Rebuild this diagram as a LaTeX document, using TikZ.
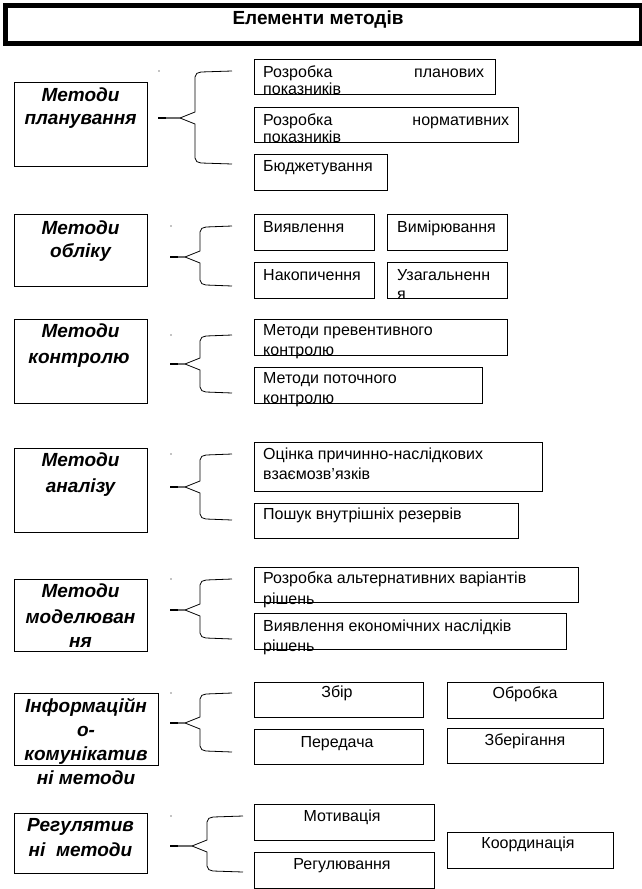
\documentclass[tikz,border=0pt]{standalone}
\usepackage{fontspec}
\setmainfont{Liberation Sans}
\tikzset{
  bx/.style={draw, line width=0.9pt, inner sep=0pt, anchor=north west},
  tx/.style={font=\fontsize{16}{18}\selectfont, anchor=mid west, inner sep=0pt},
  tc/.style={font=\fontsize{16}{18}\selectfont, anchor=mid, inner sep=0pt},
  hd/.style={font=\fontsize{19}{22}\selectfont\bfseries\itshape, anchor=mid, inner sep=0pt},
  brc/.style={draw, line width=0.8pt},
}
\newcommand\mkbox[5]{\node[bx, minimum width={(#4-#2)*1pt}, minimum height={(#5-#3)*1pt}] (#1) at (#2,#3) {};}
\newcommand\mybrace[6]{%
  \draw[brc] (#6,#2) -- ({#1+6},{#2+1}) to[out=180,in=90] (#1,{#2+6}) -- (#1,{#4-6}) -- ({#1-15},#4) -- (#5,#4);
  \draw[brc] (#6,#3) -- ({#1+6},{#3-1}) to[out=180,in=-90] (#1,{#3-6}) -- (#1,{#4+6}) -- ({#1-15},#4) -- (#5,#4);
  \draw[line width=1.6pt] (#5,#4) -- ({#5+8},#4);
  \fill ({#5+1},#2) circle (0.6);}
\begin{document}
\begin{tikzpicture}[x=1pt,y=-1pt]
\useasboundingbox (0,0) rectangle (641,889);
% title
\node[draw, line width=5pt, minimum width=636pt, minimum height=38.5pt, anchor=north west, inner sep=0pt] (title) at (2.5,2.5) {};
\node[font=\fontsize{19}{22}\selectfont\bfseries, inner sep=0pt] (titletext) at (318,20) {Елементи методів};

% group 1
\mkbox{h1}{14}{82}{147}{166}
\node[hd] (h1a) at (80.5,99) {Методи};
\node[hd] (h1b) at (80.5,122) {планування};
\mybrace{195}{71}{164}{118}{158}{232}
\mkbox{r11}{254}{59}{495}{94}
\node[tx] (t11a) at (263,75) {\makebox[221pt][s]{Розробка\hfill планових}};
\node[tx] (t11b) at (263,92) {показників};
\mkbox{r12}{254}{107}{518}{142}
\node[tx] (t12a) at (263,123) {\makebox[246pt][s]{Розробка\hfill нормативних}};
\node[tx] (t12b) at (263,140) {показників};
\mkbox{r13}{254}{154}{387}{190}
\node[tx] (t13) at (263,169) {Бюджетування};

% group 2
\mkbox{h2}{14}{214}{147}{286}
\node[hd] (h2a) at (80.5,232) {Методи};
\node[hd] (h2b) at (80.5,255) {обліку};
\mybrace{200}{226}{286}{257}{170}{232}
\mkbox{r21}{254}{214}{374}{250}
\node[tx] (t21) at (263,230) {Виявлення};
\mkbox{r22}{387}{214}{507}{250}
\node[tx] (t22) at (397,230) {Вимірювання};
\mkbox{r23}{254}{262}{374}{298}
\node[tx] (t23) at (263,278) {Накопичення};
\mkbox{r24}{387}{262}{507}{298}
\node[tx] (t24a) at (397,278) {Узагальненн};
\node[tx] (t24b) at (397,297) {я};

% group 3
\mkbox{h3}{14}{319}{147}{403}
\node[hd] (h3a) at (80.5,335) {Методи};
\node[hd] (h3b) at (79,361) {контролю};
\mybrace{200}{335}{393}{364}{170}{232}
\mkbox{r31}{254}{319}{507}{355}
\node[tx] (t31a) at (263,333) {Методи превентивного};
\node[tx] (t31b) at (263,353) {контролю};
\mkbox{r32}{254}{367}{482}{403}
\node[tx] (t32a) at (263,381) {Методи поточного};
\node[tx] (t32b) at (263,401) {контролю};

% group 4
\mkbox{h4}{14}{448}{147}{532}
\node[hd] (h4a) at (80.5,464) {Методи};
\node[hd] (h4b) at (80.5,490) {аналізу};
\mybrace{200}{454}{520}{487}{170}{232}
\mkbox{r41}{254}{442}{542}{491}
\node[tx] (t41a) at (263,457) {Оцінка причинно-наслідкових};
\node[tx] (t41b) at (263,477) {взаємозв’язків};
\mkbox{r42}{254}{503}{518}{538}
\node[tx] (t42) at (263,517) {Пошук внутрішніх резервів};

% group 5
\mkbox{h5}{14}{579}{147}{651}
\node[hd] (h5a) at (80.5,595) {Методи};
\node[hd] (h5b) at (80.5,621) {моделюван};
\node[hd] (h5c) at (80.5,645) {ня};
\mybrace{200}{579}{639}{610}{170}{232}
\mkbox{r51}{254}{567}{578}{602}
\node[tx] (t51a) at (263,581) {Розробка альтернативних варіантів};
\node[tx] (t51b) at (263,602) {рішень};
\mkbox{r52}{254}{613}{566}{649}
\node[tx] (t52a) at (263,629) {Виявлення економічних наслідків};
\node[tx] (t52b) at (263,649) {рішень};

% group 6
\mkbox{h6}{14}{693}{158}{765}
\node[hd] (h6a) at (86,710) {Інформаційн};
\node[hd] (h6b) at (86,734) {о-};
\node[hd] (h6c) at (86,758) {комунікатив};
\node[hd] (h6d) at (86,782) {ні методи};
\mybrace{200}{693}{752}{723}{170}{232}
\mkbox{r61}{254}{682}{423}{717}
\node[tc] (t61) at (337,695) {Збір};
\mkbox{r62}{447}{682}{603}{718}
\node[tc] (t62) at (525,696) {Обробка};
\mkbox{r63}{254}{729}{423}{764}
\node[tc] (t63) at (337,745) {Передача};
\mkbox{r64}{447}{728}{603}{763}
\node[tc] (t64) at (525,743) {Зберігання};

% group 7
\mkbox{h7}{14}{813}{147}{873}
\node[hd] (h7a) at (80.5,829) {Регулятив};
\node[hd] (h7b) at (80.5,854) {ні\ \ методи};
\mybrace{207}{816}{872}{846}{170}{243}
\mkbox{r71}{254}{804}{434}{840}
\node[tc] (t71) at (342,819) {Мотивація};
\mkbox{r72}{254}{852}{434}{888}
\node[tc] (t72) at (342,867) {Регулювання};
\mkbox{r73}{447}{832}{613}{868}
\node[tc] (t73) at (528,846) {Координація};
\end{tikzpicture}
\end{document}
